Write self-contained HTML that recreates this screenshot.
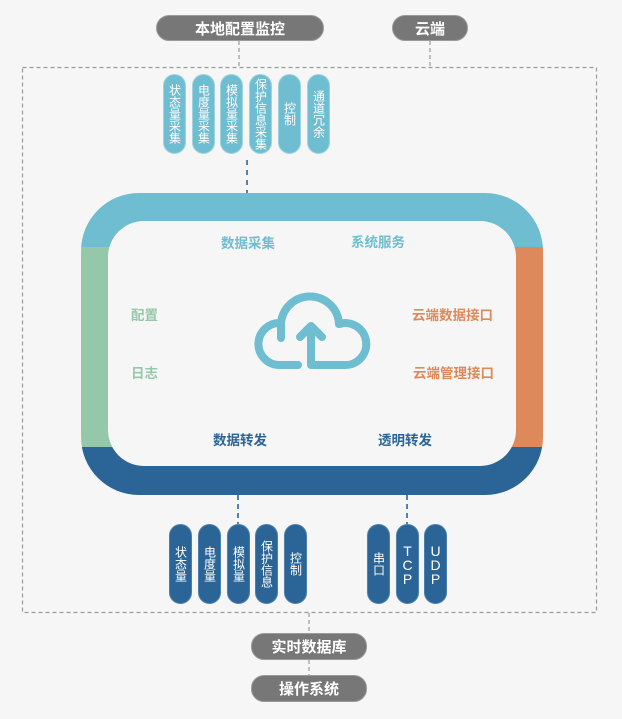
<!DOCTYPE html>
<html><head><meta charset="utf-8">
<style>
html,body{margin:0;padding:0;}
body{width:622px;height:719px;background:#f6f6f6;position:relative;overflow:hidden;font-family:"Liberation Sans","Noto Sans CJK SC",sans-serif;}
.abs{position:absolute;}
.hp{position:absolute;background:#777;border:1px solid #9a9a9a;box-sizing:border-box;border-radius:13px;color:#fff;font-weight:bold;font-size:15px;display:flex;align-items:center;justify-content:center;}
.vp{position:absolute;width:23px;height:80px;border-radius:11.5px;color:#fff;display:flex;align-items:center;justify-content:center;box-sizing:border-box;}
.vp span{writing-mode:vertical-rl;text-orientation:upright;font-size:12px;line-height:12px;letter-spacing:0;}
.vp span.lat{font-size:14px;line-height:14px;letter-spacing:-2px;}
.c{background:#6fbdd1;border:1px solid #9fd3e0;}
.n{background:#2b6597;border:1px solid #4c7fab;}
.lbl{position:absolute;font-size:13.5px;font-weight:bold;white-space:nowrap;line-height:16px;}
</style></head>
<body>
<svg class="abs" style="left:0;top:0" width="622" height="719" viewBox="0 0 622 719">
  <defs>
    <clipPath id="outer"><rect x="81" y="193" width="462" height="302" rx="58" ry="58"/></clipPath>
  </defs>
  <rect x="22.5" y="67.5" width="574" height="545" fill="none" stroke="#9a9a9a" stroke-width="1.2" stroke-dasharray="4 3"/>
  <line x1="239" y1="41" x2="239" y2="67" stroke="#9a9a9a" stroke-width="1.2" stroke-dasharray="4 3"/>
  <line x1="430" y1="41" x2="430" y2="67" stroke="#9a9a9a" stroke-width="1.2" stroke-dasharray="4 3"/>
  <line x1="309" y1="613" x2="309" y2="634" stroke="#9a9a9a" stroke-width="1.2" stroke-dasharray="4 3"/>
  <line x1="309" y1="660" x2="309" y2="676" stroke="#9a9a9a" stroke-width="1.2" stroke-dasharray="4 3"/>
  <line x1="247" y1="160" x2="247" y2="193" stroke="#2b6597" stroke-width="1.6" stroke-dasharray="5 5"/>
  <line x1="238" y1="495" x2="238" y2="524" stroke="#2b6597" stroke-width="1.6" stroke-dasharray="5 4"/>
  <line x1="407" y1="495" x2="407" y2="524" stroke="#2b6597" stroke-width="1.6" stroke-dasharray="5 4"/>
  <g clip-path="url(#outer)">
    <rect x="81" y="193" width="462" height="54" fill="#6fbdd1"/>
    <rect x="81" y="247" width="231" height="200" fill="#95c8a9"/>
    <rect x="312" y="247" width="231" height="200" fill="#dd895b"/>
    <rect x="81" y="447" width="462" height="48" fill="#2b6597"/>
  </g>
  <rect x="108" y="221" width="408" height="245" rx="36" ry="36" fill="#f6f6f6"/>
  <g fill="none" stroke="#6fbdd1" stroke-width="8" stroke-linecap="round" stroke-linejoin="round">
    <path d="M281 338 L281 327 A29 29 0 0 1 339 324"/>
    <path d="M339 324 A21 21 0 1 1 344 365 L311 365 L311 330"/>
    <path d="M281 323 A21 21 0 1 0 278 365 L298 365"/>
    <path d="M300 337 L311 326 L322 337"/>
  </g>
</svg>

<div class="hp" style="left:156px;top:15px;width:168px;height:26px;">本地配置监控</div>
<div class="hp" style="left:392px;top:15px;width:76px;height:26px;">云端</div>
<div class="hp" style="left:251px;top:633px;width:116px;height:27px;">实时数据库</div>
<div class="hp" style="left:251px;top:675px;width:116px;height:27px;">操作系统</div>

<div class="vp c" style="left:163px;top:74px;"><span>状态量采集</span></div>
<div class="vp c" style="left:192px;top:74px;"><span>电度量采集</span></div>
<div class="vp c" style="left:220px;top:74px;"><span>模拟量采集</span></div>
<div class="vp c" style="left:249px;top:74px;"><span>保护信息采集</span></div>
<div class="vp c" style="left:278px;top:74px;"><span>控制</span></div>
<div class="vp c" style="left:307px;top:74px;"><span>通道冗余</span></div>

<div class="vp n" style="left:169px;top:524px;"><span>状态量</span></div>
<div class="vp n" style="left:198px;top:524px;"><span>电度量</span></div>
<div class="vp n" style="left:227px;top:524px;"><span>模拟量</span></div>
<div class="vp n" style="left:255px;top:524px;"><span>保护信息</span></div>
<div class="vp n" style="left:284px;top:524px;"><span>控制</span></div>
<div class="vp n" style="left:367px;top:524px;"><span>串口</span></div>
<div class="vp n" style="left:396px;top:524px;"><span class="lat">TCP</span></div>
<div class="vp n" style="left:424px;top:524px;"><span class="lat">UDP</span></div>

<div class="lbl" style="left:221px;top:236px;color:#6fbdd1;">数据采集</div>
<div class="lbl" style="left:351px;top:235px;color:#6fbdd1;">系统服务</div>
<div class="lbl" style="left:131px;top:308px;color:#95c8a9;">配置</div>
<div class="lbl" style="left:131px;top:366px;color:#95c8a9;">日志</div>
<div class="lbl" style="left:412px;top:308px;color:#dd895b;">云端数据接口</div>
<div class="lbl" style="left:413px;top:366px;color:#dd895b;">云端管理接口</div>
<div class="lbl" style="left:213px;top:433px;color:#2b6597;">数据转发</div>
<div class="lbl" style="left:378px;top:433px;color:#2b6597;">透明转发</div>
</body></html>
